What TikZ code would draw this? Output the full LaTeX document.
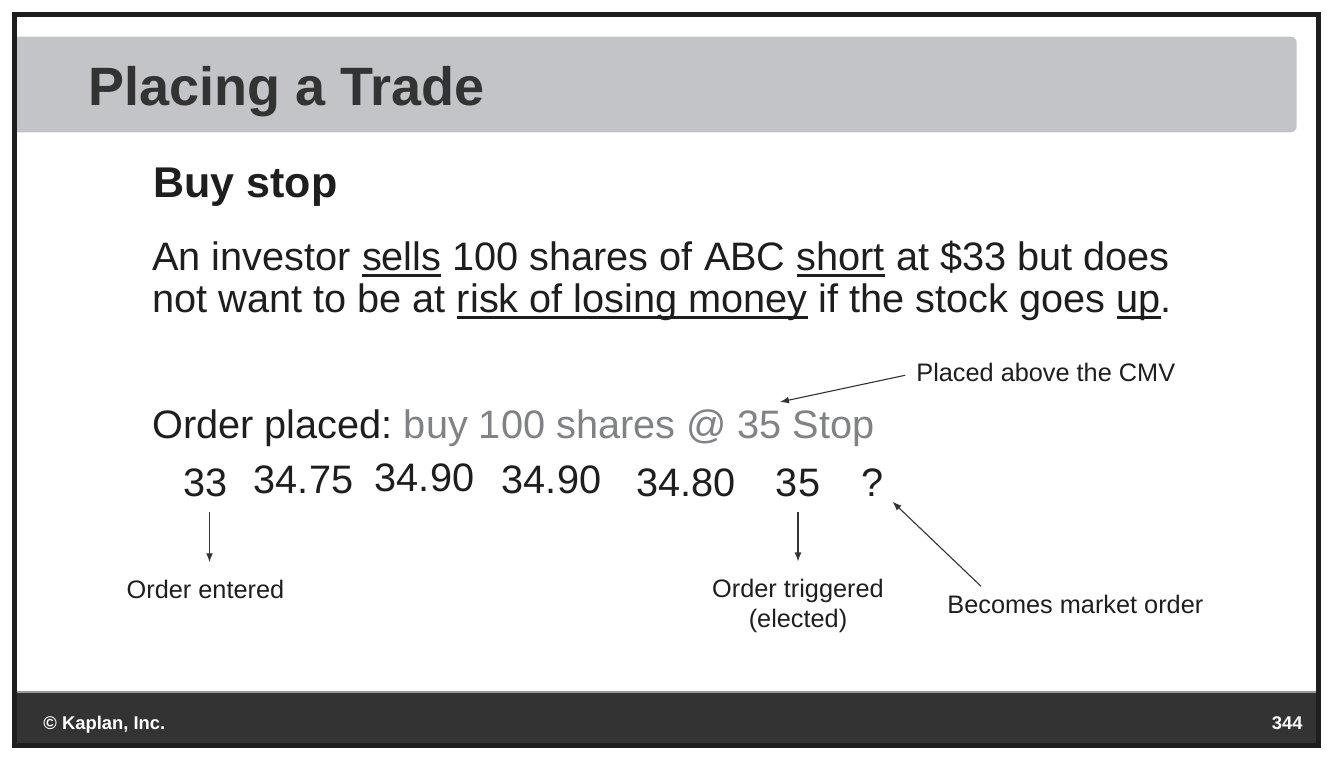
\documentclass[tikz,border=0pt]{standalone}
\usepackage{fontspec}
\setmainfont{Liberation Sans}
\usetikzlibrary{arrows.meta}

\definecolor{framedark}{HTML}{1E1E1E}
\definecolor{titlebar}{HTML}{C3C4C8}
\definecolor{titletext}{HTML}{333333}
\definecolor{footbar}{HTML}{333333}
\definecolor{footline}{HTML}{9A9A9A}
\definecolor{bodytext}{HTML}{1E1E1E}
\definecolor{ordergray}{HTML}{808285}

\newsavebox{\undlbox}
\newcommand{\undl}[1]{\sbox{\undlbox}{#1}\rlap{\rule[-3pt]{\wd\undlbox}{1.3pt}}\usebox{\undlbox}}
\newcommand{\bodyfont}{\fontsize{19.85}{21}\selectfont}
\frenchspacing

\tikzset{
  txt/.style={inner sep=0pt, text=bodytext},
  price/.style={txt, font=\bodyfont, anchor=base},
  note/.style={txt, font=\fontsize{12.65}{15}\selectfont},
  arr/.style={-{Latex[length=4.5pt,width=3.4pt]}, line width=0.55pt, draw=titletext},
}

\begin{document}
\begin{tikzpicture}[x=0.5pt, y=-0.5pt]
  \useasboundingbox (0,0) rectangle (1334,764);
  \fill[white] (0,0) rectangle (1334,764);

  % title bar and footer
  \fill[titlebar] (14.5,132.3) -- (14.5,36.7) [rounded corners=3pt] -- (1296.7,36.7) -- (1296.7,132.3) [sharp corners] -- cycle;
  \fill[footbar] (14.5,692) rectangle (1318.3,745.5);
  \draw[footline, line width=0.6pt] (14.5,692) -- (1318.3,692);
  \draw[framedark, line width=2.5pt] (14.2,14.2) rectangle (1318.2,745.8);

  \node[txt, anchor=base west, text=titletext, font=\fontsize{27}{30}\selectfont\bfseries] (title) at (88,105.5) {Placing a Trade};
  \node[txt, anchor=base west, font=\fontsize{21.5}{24}\selectfont\bfseries] (kind) at (153,198) {Buy stop};

  % the situation
  \node[txt, anchor=base west, font=\bodyfont] (line1) at (152,271) {An investor \undl{sells} 100 shares of ABC \undl{short} at \$33 but does};
  \node[txt, anchor=base west, font=\bodyfont] (line2) at (152,313) {not want to be at \undl{risk of losing money} if the stock goes \undl{up}.};
  \node[txt, anchor=base west, font=\bodyfont] (placed) at (152,439) {Order placed: \textcolor{ordergray}{buy 100 shares @ 35 Stop}};

  % prices after the order
  \foreach \val/\cx/\by/\nm in {33/205.5/497/p1, 34.75/303.5/493.7/p2, 34.90/424.5/492/p3, 34.90/551.5/493.7/p4, 34.80/686/496.3/p5, 35/798/497/p6, ?/873/497/p7}
    {\node[price] (\nm) at (\cx,\by) {\val};}

  \node[note, anchor=base] (entered) at (205.5,598) {Order entered};
  \node[note, anchor=north, align=center] (trig) at (798,578.5) {Order triggered\\(elected)};
  \node[note, anchor=base west] (market) at (947,613) {Becomes market order};
  \node[note, anchor=base west] (cmv) at (916,382) {Placed above the CMV};
  \coordinate (stoptip) at (780,402);

  \draw[arr, shorten <=7pt, shorten >=8.5pt] ([xshift=2pt]p1.south) -- ([xshift=2pt]entered.north);
  \draw[arr, shorten <=7pt, shorten >=8.5pt] (p6.south) -- (trig.north);
  \draw[arr, shorten >=13.5pt] ([shift={(17pt,4pt)}]market.north west) -- (p7.center);
  \draw[arr, shorten <=5.5pt] (cmv.west) -- (stoptip);

  \node[txt, anchor=base west, text=white, font=\fontsize{9.2}{11}\selectfont\bfseries] (copy) at (43,729) {© Kaplan, Inc.};
  \node[txt, anchor=base east, text=white, font=\fontsize{9.2}{11}\selectfont\bfseries] (page) at (1303,729) {344};
\end{tikzpicture}
\end{document}
